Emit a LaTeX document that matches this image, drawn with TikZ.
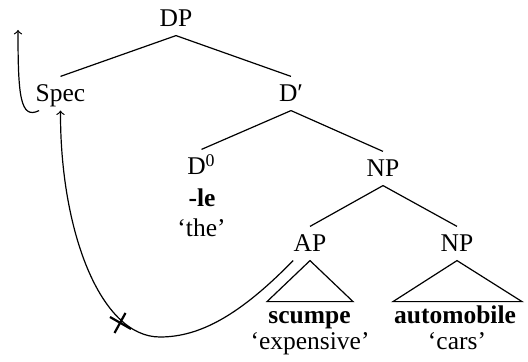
\documentclass[tikz,border=0pt]{standalone}
\usepackage{fontspec}
\setmainfont{Liberation Serif}
\begin{document}
\begin{tikzpicture}[x=0.5pt,y=-0.5pt,
  every path/.style={line width=0.6pt},
  lab/.style={anchor=base,inner xsep=0pt,inner ysep=4pt,text height=8.5pt,text depth=0pt,font=\fontsize{12.75}{15}\selectfont},
  gloss/.style={anchor=base,inner sep=0pt,font=\fontsize{12.75}{15}\selectfont},
  mv/.style={->},
  xmark/.style={line width=1.1pt}]
\useasboundingbox (0,0) rectangle (528,362);
% tree labels
\node[lab] (DP) at (176,27) {DP};
\node[lab] (Spec) at (60.5,102) {Spec};
\node[lab] (Dbar) at (291,102) {D′};
\node[lab] (D0) at (201.5,175) {D\textsuperscript{0}};
\node[gloss] (le) at (202,207) {\textbf{-le}};
\node[gloss] (the) at (201.5,237) {‘the’};
\node[lab] (NP) at (383,177) {NP};
\node[lab] (AP) at (310,252) {AP};
\node[lab] (NPb) at (457,252) {NP};
\node[gloss] (scumpe) at (309.5,323) {\textbf{scumpe}};
\node[gloss] (expensive) at (310,349) {‘expensive’};
\node[gloss] (automobile) at (455,323) {\textbf{automobile}};
\node[gloss] (cars) at (457,349) {‘cars’};
% branches
\draw (DP.south) -- (Spec.north);
\draw (DP.south) -- (Dbar.north);
\draw (Dbar.south) -- (D0.north);
\draw (Dbar.south) -- (NP.north);
\draw (NP.south) -- (AP.north);
\draw (NP.south) -- (NPb.north);
% triangles
\draw (AP.south) -- ++(-43,41) -- ++(86,0) -- cycle;
\draw (NPb.south) -- ++(-64,41) -- ++(129,0) -- cycle;
% movement arrows
\coordinate (top) at (18,30);
\draw[mv] ([xshift=2pt]Spec.south west) .. controls (20,120) and (18,95) .. (top);
\coordinate (bot) at (160,337);
\draw[mv] (AP.south west) .. controls (240,315) and (200,337) .. (bot)
  .. controls (100,337) and (60,230) .. (Spec.south);
% blocked mark
\coordinate (X) at (120.5,323);
\draw[xmark] ([shift={(-10.5,-6)}]X) -- ([shift={(10.5,6)}]X);
\draw[xmark] ([shift={(5,-10)}]X) -- ([shift={(-6,10)}]X);
\end{tikzpicture}
\end{document}
